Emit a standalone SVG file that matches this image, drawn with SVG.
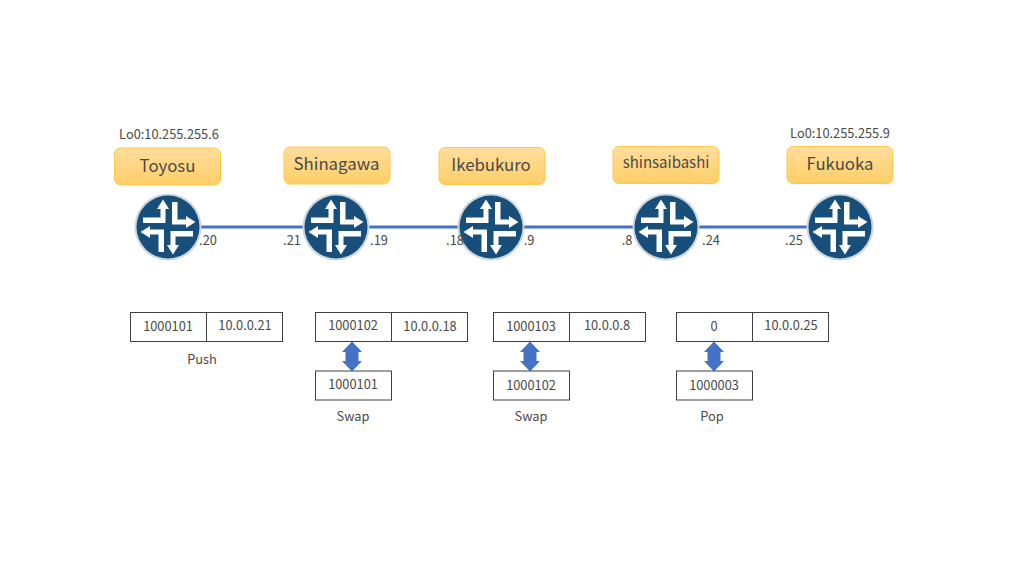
<svg xmlns="http://www.w3.org/2000/svg" width="1024" height="576" viewBox="0 0 1024 576">
<style>
text{font-family:"Noto Sans CJK JP","Noto Sans",sans-serif;fill:#4a4a4a;text-anchor:middle}
.name{font-size:16.800px}
.small{font-size:12.800px}
.cell{fill:#fff;stroke:#404040;stroke-width:1}
.pill{fill:url(#gold);stroke:#ffc84a;stroke-width:1}
.dbl{fill:#4472c4}
</style>
<defs>
<linearGradient id="gold" x1="0" y1="0" x2="0" y2="1"><stop offset="0" stop-color="#ffdd9e"/><stop offset="1" stop-color="#ffcf66"/></linearGradient>
<path id="arm" fill="#fff" d="M-25-9.500H-7.500V-18H-11L-5-27.500L1-18H-2.500V-4H-25Z"/>
<g id="router">
<circle r="33.500" fill="#ccd6de"/>
<circle r="31.500" fill="#174f7a"/>
<use href="#arm"/><use href="#arm" transform="rotate(90)"/><use href="#arm" transform="rotate(180)"/><use href="#arm" transform="rotate(270)"/>
</g>
<path id="dblarrow" class="dbl" d="M0-15L10-4.500H6.500V4.500H10L0 15L-10 4.500H-6.500V-4.500H-10Z"/>
</defs>
<g id="connectors">
<line x1="168" y1="227" x2="840" y2="227" stroke="#4472c4" stroke-width="3"/>
<use href="#dblarrow" x="352" y="356.500"/>
<use href="#dblarrow" x="530" y="356.500"/>
<use href="#dblarrow" x="714" y="356.500"/>
</g>
<g id="toyosu"><rect class="pill" x="114.500" y="148" width="106" height="37" rx="6"/><text class="name" x="167.500" y="172">Toyosu</text><use href="#router" x="168" y="227"/><text class="small" x="169" y="139">Lo0:10.255.255.6</text><text class="small" x="208" y="245">.20</text></g>
<g id="shinagawa"><rect class="pill" x="284" y="147" width="106" height="37" rx="6"/><text class="name" x="336.500" y="170">Shinagawa</text><use href="#router" x="336" y="227"/><text class="small" x="292" y="245">.21</text><text class="small" x="379" y="245">.19</text></g>
<g id="ikebukuro"><rect class="pill" x="439" y="147.500" width="106" height="37" rx="6"/><text class="name" x="491" y="171">Ikebukuro</text><use href="#router" x="491" y="227"/><text class="small" x="455" y="245">.18</text><text class="small" x="529" y="245">.9</text></g>
<g id="shinsaibashi"><rect class="pill" x="613" y="146.500" width="106" height="37" rx="6"/><text class="name" x="666" y="168" style="font-size:15px">shinsaibashi</text><use href="#router" x="666" y="227"/><text class="small" x="627" y="245">.8</text><text class="small" x="711" y="245">.24</text></g>
<g id="fukuoka"><rect class="pill" x="787" y="146.500" width="106" height="37" rx="6"/><text class="name" x="840" y="170">Fukuoka</text><use href="#router" x="840" y="227"/><text class="small" x="840" y="138">Lo0:10.255.255.9</text><text class="small" x="794" y="245">.25</text></g>
<g id="table-push"><rect class="cell" x="130.500" y="312.500" width="76" height="29"/><rect class="cell" x="206.500" y="312.500" width="76" height="29"/><text class="small" x="168" y="331">1000101</text><text class="small" x="245" y="330">10.0.0.21</text><text class="small" x="202" y="364">Push</text></g>
<g id="table-swap1"><rect class="cell" x="315.500" y="312.500" width="76" height="29"/><rect class="cell" x="391.500" y="312.500" width="76" height="29"/><rect class="cell" x="315.500" y="371" width="76" height="29"/><text class="small" x="353" y="330">1000102</text><text class="small" x="430" y="331">10.0.0.18</text><text class="small" x="353" y="389">1000101</text><text class="small" x="353" y="421">Swap</text></g>
<g id="table-swap2"><rect class="cell" x="493.500" y="312.500" width="76" height="29"/><rect class="cell" x="569.500" y="312.500" width="76" height="29"/><rect class="cell" x="493.500" y="371" width="76" height="29"/><text class="small" x="531" y="331">1000103</text><text class="small" x="607" y="330">10.0.0.8</text><text class="small" x="531" y="390">1000102</text><text class="small" x="531" y="421">Swap</text></g>
<g id="table-pop"><rect class="cell" x="676.500" y="312.500" width="76" height="29"/><rect class="cell" x="752.500" y="312.500" width="76" height="29"/><rect class="cell" x="676.500" y="371" width="76" height="29"/><text class="small" x="714" y="331">0</text><text class="small" x="791" y="330">10.0.0.25</text><text class="small" x="714" y="390">1000003</text><text class="small" x="712" y="421">Pop</text></g>
</svg>
